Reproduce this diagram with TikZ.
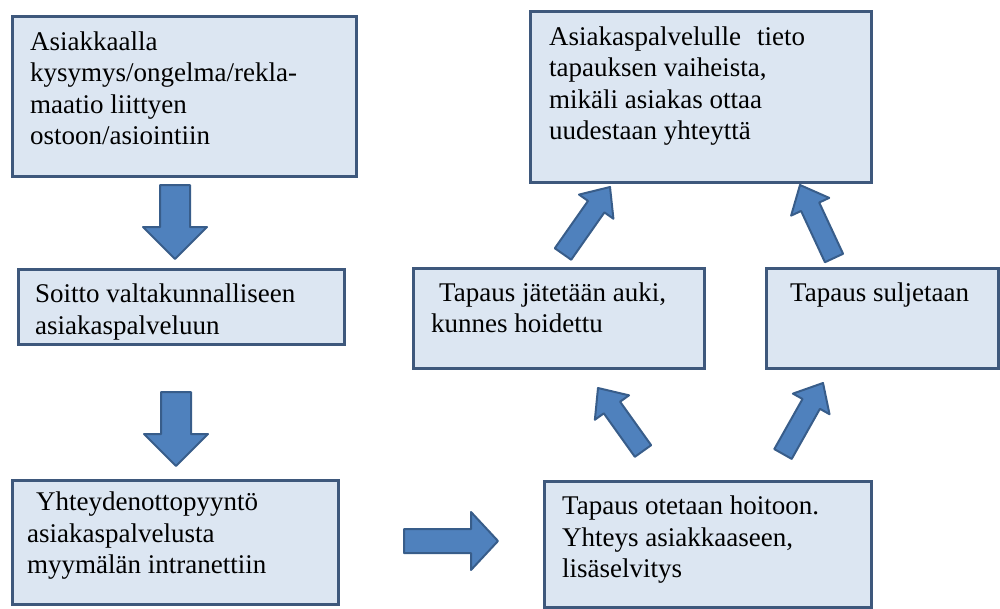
\documentclass[tikz,border=0pt]{standalone}
\usepackage{fontspec}
\setmainfont{Liberation Serif}
\usetikzlibrary{calc}
\definecolor{boxfill}{RGB}{220,230,242}
\definecolor{boxline}{RGB}{62,88,124}
\definecolor{arrfill}{RGB}{79,129,189}
\definecolor{arrline}{RGB}{56,93,138}
\newcommand\blockarr[5]{%
  \coordinate (hb) at ($(#2)!#5!(#1)$);
  \draw[arrowshape] ($(#1)!#3!90:(#2)$) -- ($(hb)!#3!90:(#2)$) -- ($(hb)!#4!90:(#2)$) -- (#2)
    -- ($(hb)!#4!-90:(#2)$) -- ($(hb)!#3!-90:(#2)$) -- ($(#1)!#3!-90:(#2)$) -- cycle;}
\begin{document}
\begin{tikzpicture}[x=1pt,y=-1pt,
  box/.style={draw=boxline, fill=boxfill, line width=3pt, inner sep=0pt, anchor=north west},
  txt/.style={anchor=north west, inner sep=0pt, align=left, font=\fontsize{27}{31.5}\selectfont},
  arrowshape/.style={fill=arrfill, draw=arrline, line width=2pt, line join=round}]
\useasboundingbox (0,0) rectangle (1000,608);
% boxes
\node[box, minimum width=344pt, minimum height=160pt] (b1) at (11,15) {};
\node[box, minimum width=326pt, minimum height=75pt] (b2) at (17,268) {};
\node[box, minimum width=326pt, minimum height=124pt] (b3) at (11,479) {};
\node[box, minimum width=327pt, minimum height=126pt] (b4) at (543,480) {};
\node[box, minimum width=291pt, minimum height=100pt] (b5) at (412,267) {};
\node[box, minimum width=232pt, minimum height=100pt] (b6) at (765,267) {};
\node[box, minimum width=341pt, minimum height=171pt] (b7) at (529,10) {};
% texts
\node[txt] (t1) at (30,31.5) {Asiakkaalla\\kysymys/ongelma/rekla-\\maatio liittyen\\ostoon/asiointiin};
\node[txt] (t2) at (35,284) {Soitto valtakunnalliseen\\asiakaspalveluun};
\node[txt] (t3) at (27,492) {\hspace{9pt}Yhteydenottopyyntö\\asiakaspalvelusta\\myymälän intranettiin};
\node[txt] (t4) at (562,496) {Tapaus otetaan hoitoon.\\Yhteys asiakkaaseen,\\lisäselvitys};
\node[txt] (t5) at (431,282.5) {\hspace{8pt}Tapaus jätetään auki,\\kunnes hoidettu};
\node[txt] (t6) at (790,282.5) {Tapaus suljetaan};
\node[txt] (t7) at (549,26.5) {Asiakaspalvelulle\hspace{16pt}tieto\\tapauksen vaiheista,\\mikäli asiakas ottaa\\uudestaan yhteyttä};
% arrow end points
\coordinate (a1s) at (175,185); \coordinate (a1e) at (175,259);
\coordinate (a2s) at (176,392); \coordinate (a2e) at (176,466);
\coordinate (a3s) at (404,541); \coordinate (a3e) at (498,541);
\coordinate (a4s) at (643,451); \coordinate (a4e) at (598,388);
\coordinate (a5s) at (783,454); \coordinate (a5e) at (823,383);
\coordinate (a6s) at (563,254); \coordinate (a6e) at (610,187);
\coordinate (a7s) at (834,258); \coordinate (a7e) at (800,185);
\blockarr{a1s}{a1e}{15pt}{32pt}{32pt}
\blockarr{a2s}{a2e}{15pt}{32pt}{32pt}
\blockarr{a3s}{a3e}{12pt}{29pt}{27pt}
\blockarr{a4s}{a4e}{10pt}{21pt}{24pt}
\blockarr{a5s}{a5e}{10pt}{21pt}{24pt}
\blockarr{a6s}{a6e}{10pt}{21pt}{24pt}
\blockarr{a7s}{a7e}{10pt}{21pt}{24pt}
\end{tikzpicture}
\end{document}
